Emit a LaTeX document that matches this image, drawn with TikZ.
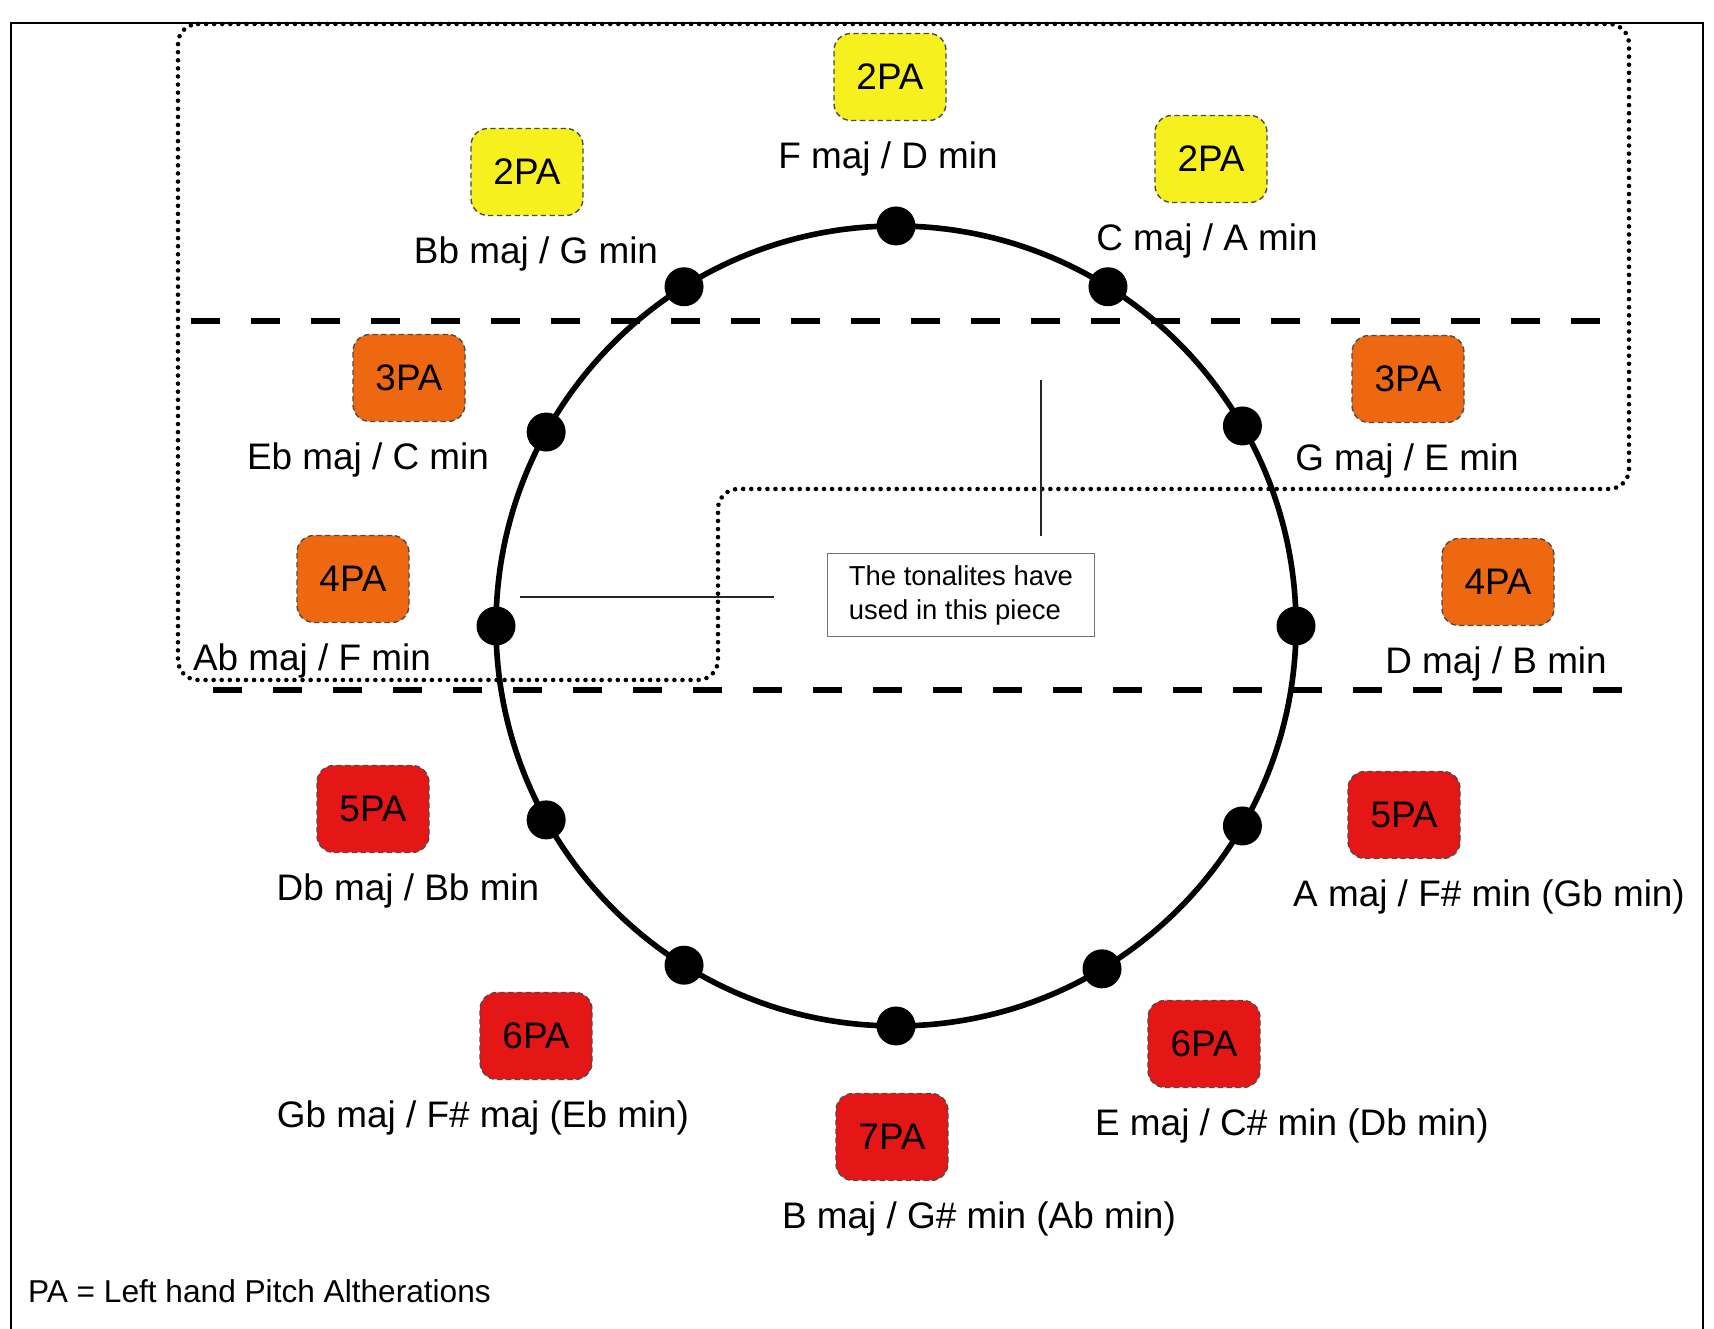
\documentclass[tikz,border=0pt]{standalone}
\usepackage{fontspec}
\setmainfont{Liberation Sans}
\usepackage{xcolor}
\usepackage{tikz}

\definecolor{payellow}{RGB}{245,240,30}
\definecolor{paorange}{RGB}{238,104,18}
\definecolor{pared}{RGB}{228,22,22}

\begin{document}
\begin{tikzpicture}[node distance=0.82cm, semithick]
        \tikzstyle{pabox}=[draw=black!70, line width=0.4pt, dash pattern=on 1.5pt off 1pt,
            rounded corners=0.17cm, minimum width=1.12cm, minimum height=0.87cm,
            inner sep=0pt, font=\fontsize{10.5}{12}\selectfont]
        \tikzstyle{pa2}=[pabox, fill=payellow]
        \tikzstyle{pa3}=[pabox, fill=paorange]
        \tikzstyle{pa5}=[pabox, fill=pared]
        \tikzstyle{keyname}=[inner sep=0pt, font=\fontsize{10.5}{12}\selectfont]
        \tikzstyle{dot}=[circle, fill=black, inner sep=0pt, minimum size=0.39cm]
        \tikzstyle{wheel}=[line width=1.6pt]
        \tikzstyle{band}=[line width=1.7pt, dash pattern=on 0.29cm off 0.31cm]
        \tikzstyle{used}=[line width=1.3pt, line cap=round, dash pattern=on 0pt off 2.3pt,
            rounded corners=0.2cm]
        \tikzstyle{pointer}=[line width=0.5pt, black!85]
        \tikzstyle{notebox}=[draw=black!55, line width=0.4pt, align=left,
            minimum width=2.67cm, minimum height=0.81cm,
            font=\fontsize{7.8}{9.7}\selectfont]

        \useasboundingbox (0,0) rectangle (17.14,13.29);
        \fill[white] (0,0) rectangle (17.14,13.29);
        \draw[line width=0.8pt] (0.11,-0.1) -- (0.11,13.06) -- (17.03,13.06) -- (17.03,-0.1);

        % regions
        \draw[used] (1.78,13.05) -- (16.29,13.05) -- (16.29,8.40) -- (7.18,8.40)
            -- (7.18,6.49) -- (1.78,6.49) -- cycle;
        \draw[band] (1.91,10.08) -- (16.01,10.08);
        \draw[band] (2.13,6.39) -- (16.23,6.39);

        % circle of fifths
        \coordinate (c) at (8.96,7.03);
        \draw[wheel] (c) circle (4);
        \begin{scope}[shift={(8.96,7.03)}]
        \node[dot] (d1) at (90:4) {};
        \node[dot] (d2) at (58:4) {};
        \node[dot] (d3) at (30:4) {};
        \node[dot] (d4) at (0:4) {};
        \node[dot] (d5) at (-30:4) {};
        \node[dot] (d6) at (-59:4) {};
        \node[dot] (d7) at (-90:4) {};
        \node[dot] (d8) at (-122:4) {};
        \node[dot] (d9) at (-151:4) {};
        \node[dot] (d10) at (180:4) {};
        \node[dot] (d11) at (151:4) {};
        \node[dot] (d12) at (122:4) {};
        \end{scope}

        % keys
        \node[pa2] (b1) at (8.90,12.52) {2PA};
        \node[keyname] (l1) [below of=b1, xshift=-0.02cm] {F maj / D min};
        \node[pa2] (b2) at (12.11,11.70) {2PA};
        \node[keyname] (l2) [below of=b2, xshift=-0.04cm] {C maj / A min};
        \node[pa3] (b3) at (14.08,9.50) {3PA};
        \node[keyname] (l3) [below of=b3, xshift=-0.01cm] {G maj / E min};
        \node[pa3] (b4) at (14.98,7.47) {4PA};
        \node[keyname] (l4) [below of=b4, xshift=-0.02cm] {D maj / B min};
        \node[pa5] (b5) at (14.04,5.14) {5PA};
        \node[keyname] (l5) [below of=b5, xshift=0.85cm] {A maj / F\# min (Gb min)};
        \node[pa5] (b6) at (12.04,2.85) {6PA};
        \node[keyname] (l6) [below of=b6, xshift=0.88cm] {E maj / C\# min (Db min)};
        \node[pa5] (b7) at (8.92,1.92) {7PA};
        \node[keyname] (l7) [below of=b7, xshift=0.87cm] {B maj / G\# min (Ab min)};
        \node[pa5] (b8) at (5.36,2.93) {6PA};
        \node[keyname] (l8) [below of=b8, xshift=-0.53cm] {Gb maj / F\# maj (Eb min)};
        \node[pa5] (b9) at (3.73,5.20) {5PA};
        \node[keyname] (l9) [below of=b9, xshift=0.35cm] {Db maj / Bb min};
        \node[pa3] (b10) at (3.53,7.50) {4PA};
        \node[keyname] (l10) [below of=b10, xshift=-0.41cm] {Ab maj / F min};
        \node[pa3] (b11) at (4.09,9.51) {3PA};
        \node[keyname] (l11) [below of=b11, xshift=-0.41cm] {Eb maj / C min};
        \node[pa2] (b12) at (5.27,11.57) {2PA};
        \node[keyname] (l12) [below of=b12, xshift=0.09cm] {Bb maj / G min};

        % note
        \node[notebox] (note) at (9.61,7.34) {The tonalites have\\used in this piece};
        \coordinate (v1) at (10.41,9.49);
        \coordinate (v2) at (10.41,7.93);
        \coordinate (h1) at (5.20,7.32);
        \coordinate (h2) at (7.74,7.32);
        \draw[pointer] (v1) -- (v2);
        \draw[pointer] (h1) -- (h2);

        \node[font=\fontsize{9}{11}\selectfont, anchor=west, inner sep=0pt] (legend) at (0.27,0.38)
            {PA = Left hand Pitch Altherations};
    \end{tikzpicture}
\end{document}
